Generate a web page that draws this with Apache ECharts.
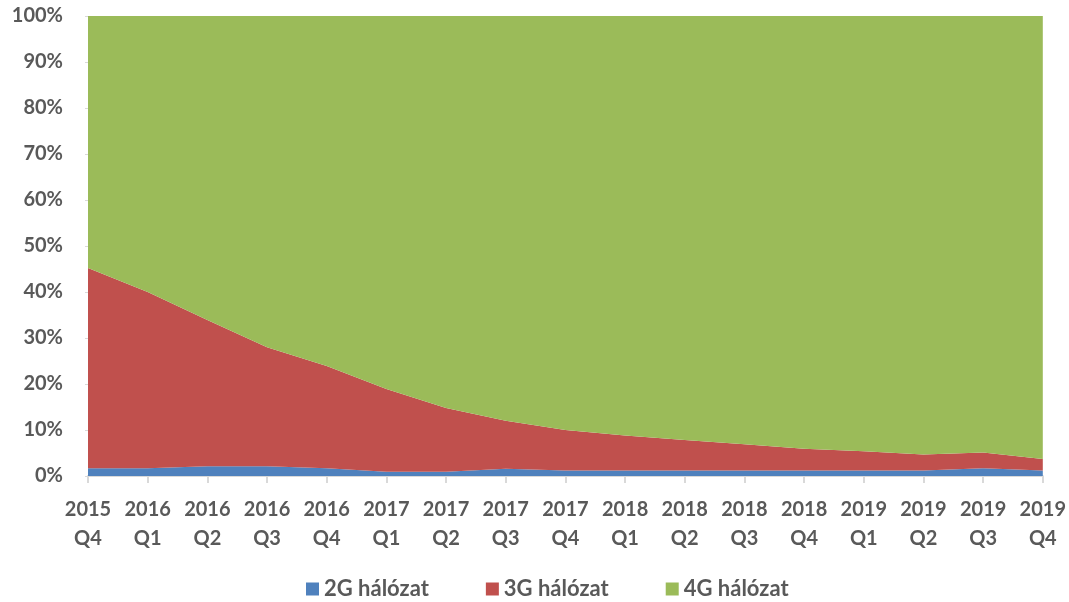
<!DOCTYPE html>
<html>
<head>
<meta charset="utf-8">
<script src="https://cdn.jsdelivr.net/npm/echarts@6/dist/echarts.min.js"></script>
<style>html,body{margin:0;padding:0;background:#fff;}#c{width:1069px;height:602px;}</style>
</head>
<body>
<div id="c"></div>
<script>
const categories = ['2015\nQ4','2016\nQ1','2016\nQ2','2016\nQ3','2016\nQ4','2017\nQ1','2017\nQ2','2017\nQ3','2017\nQ4','2018\nQ1','2018\nQ2','2018\nQ3','2018\nQ4','2019\nQ1','2019\nQ2','2019\nQ3','2019\nQ4'];
const g2 = [1.7,1.7,2.1,2.1,1.7,0.9,0.9,1.6,1.2,1.2,1.2,1.2,1.2,1.2,1.2,1.7,1.2];
const g3 = [43.5,38.3,31.8,25.9,22.2,18.0,13.9,10.4,8.8,7.6,6.6,5.7,4.7,4.2,3.5,3.4,2.5];
const g4 = [54.8,60.0,66.1,72.0,76.1,81.1,85.2,88.0,90.0,91.2,92.2,93.1,94.1,94.6,95.3,94.9,96.3];
const seriesNames = ['2G hálózat','3G hálózat','4G hálózat'];
const colors = ['#4f81bd','#c0504d','#9bbb59'];
const font = 'Lato, "Open Sans", sans-serif';
const chart = echarts.init(document.getElementById('c'));
const mk = (name, data, color) => ({
  name, type: 'line', stack: 'total', data, symbol: 'none',
  lineStyle: {width: 0}, areaStyle: {color: color, opacity: 1},
  itemStyle: {color: color}
});
chart.setOption({
  animation: false,
  color: colors,
  grid: {left: 88, right: 25, top: 16, bottom: 126},
  legend: {
    top: 578, left: 306, itemGap: 57, itemWidth: 13, itemHeight: 13,
    icon: 'rect', padding: 0,
    textStyle: {fontFamily: font, fontWeight: 'bold', fontSize: 22, color: '#595959'},
    data: seriesNames
  },
  xAxis: {
    type: 'category', data: categories, boundaryGap: false,
    axisLine: {lineStyle: {color: '#d9d9d9', width: 2}},
    axisTick: {show: true, length: 7, lineStyle: {color: '#d9d9d9', width: 2}},
    axisLabel: {interval: 0, fontFamily: font, fontWeight: 'bold', fontSize: 20, color: '#595959', lineHeight: 29, margin: 19}
  },
  yAxis: {
    type: 'value', min: 0, max: 100, interval: 10,
    axisLine: {show: false},
    axisTick: {show: true, length: 3, lineStyle: {color: '#d9d9d9'}},
    splitLine: {show: false},
    axisLabel: {formatter: '{value}%', fontFamily: font, fontWeight: 'bold', fontSize: 20, color: '#595959', margin: 25}
  },
  series: [mk(seriesNames[0], g2, colors[0]), mk(seriesNames[1], g3, colors[1]), mk(seriesNames[2], g4, colors[2])]
});
</script>
</body>
</html>
